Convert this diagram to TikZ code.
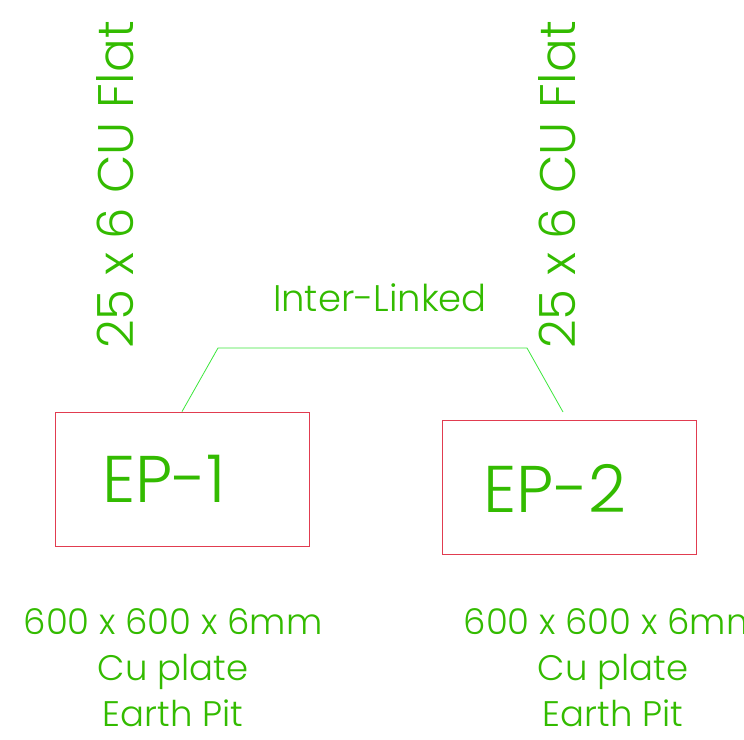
\documentclass[tikz,border=0pt]{standalone}
\usepackage{fontspec}
\setmainfont{Poppins Light}
\usetikzlibrary{positioning}
\definecolor{txtgreen}{RGB}{51,187,0}
\definecolor{wiregreen}{RGB}{60,230,60}
\definecolor{pitred}{RGB}{225,60,80}

\begin{document}
\begin{tikzpicture}[x=1pt,y=-1pt,
                pit/.style={draw=pitred,line width=0.8pt,minimum width=254pt,minimum height=134pt,inner sep=0pt},
                tag/.style={text=txtgreen,font=\fontsize{66}{66}\selectfont,inner sep=0pt},
                flat/.style={text=txtgreen,font=\fontsize{50}{50}\selectfont,rotate=90,inner sep=0pt},
                note/.style={text=txtgreen,font=\fontsize{35.5}{46}\selectfont,align=center,inner sep=0pt},
                link/.style={draw=wiregreen,line width=0.8pt}]
                \useasboundingbox (0,0) rectangle (744,739);
                \node[pit](EP1)at(182, 479){};
                \node[pit](EP2)at(569, 487.5){};
                \node[tag](T1)at(164, 479){EP-1};
                \node[tag](T2)at(555, 488){EP-2};
                \node[flat](F1)at(115, 185){25 x 6 CU Flat};
                \node[flat](F2)at(557, 185){25 x 6 CU Flat};
                \node[note,font=\fontsize{37}{46}\selectfont](IL)at(380, 298){Inter-Linked};
                \node[note](N1)at(173, 668){600 x 600 x 6mm\\Cu plate\\Earth Pit};
                \node[note](N2)at(613, 668){600 x 600 x 6mm\\Cu plate\\Earth Pit};
                \coordinate(k1)at(218, 348);
                \coordinate(k2)at(527, 348);
                \coordinate(k3)at(563, 412);
                \draw[link](EP1.north) -- (k1) -- (k2) -- (k3);
            \end{tikzpicture}
\end{document}
